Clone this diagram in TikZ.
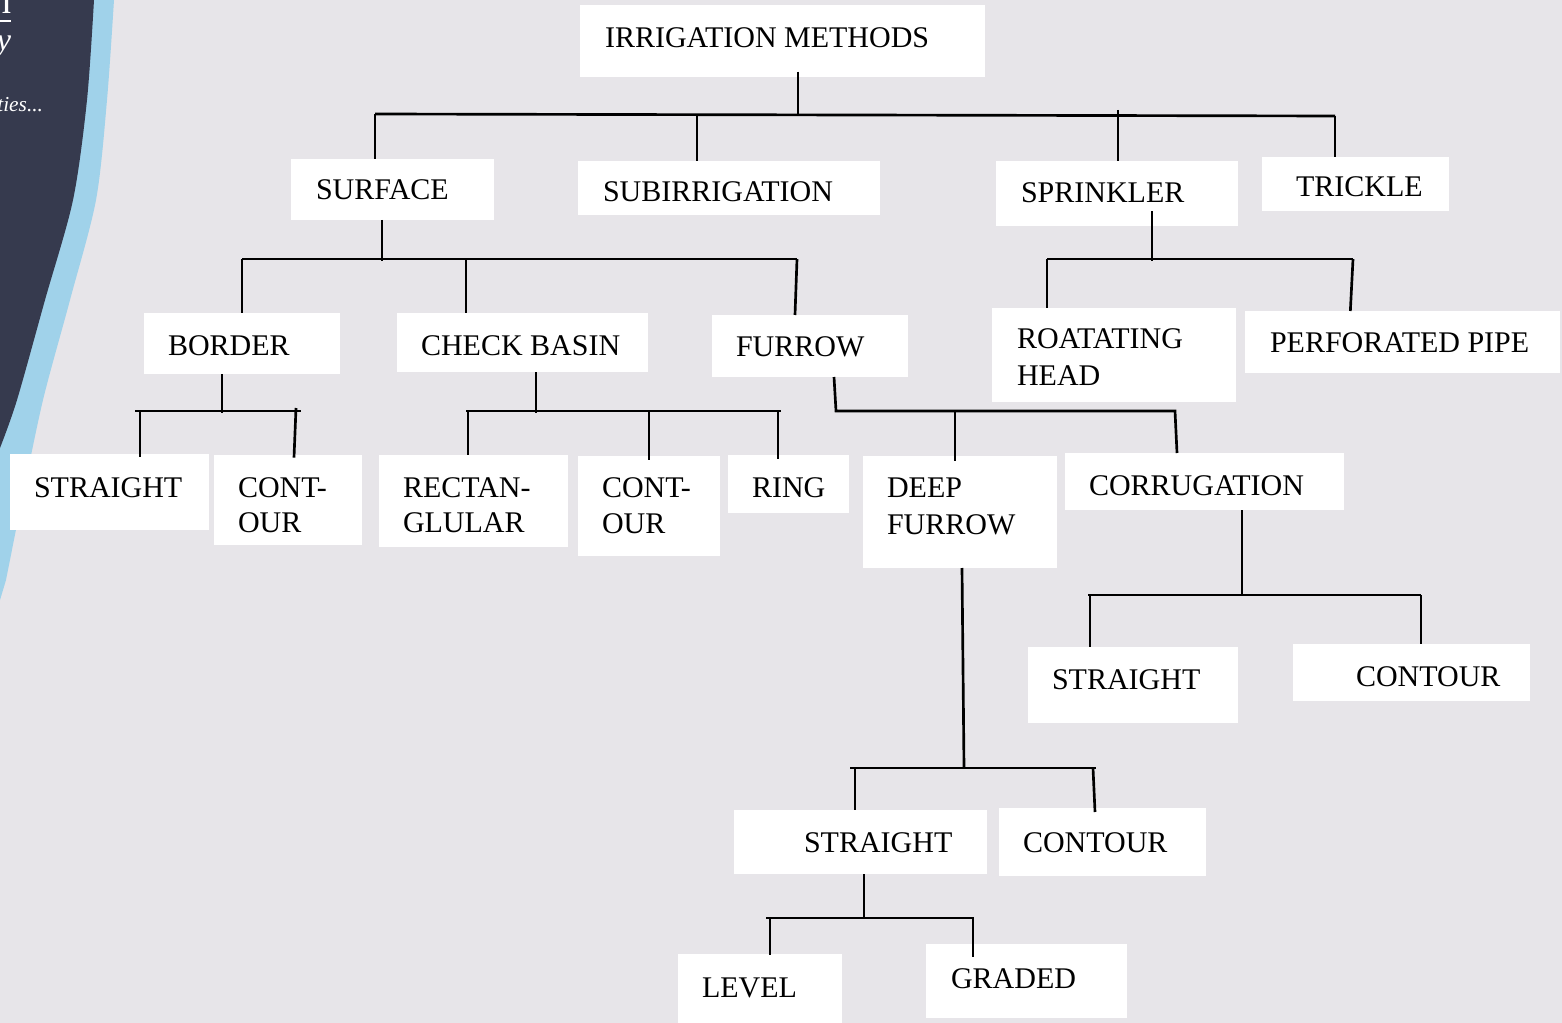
\documentclass[tikz,border=0pt]{standalone}
\usepackage{fontspec}
\setmainfont{Liberation Serif}
\definecolor{bg}{RGB}{231,229,233}
\definecolor{navy}{RGB}{54,58,78}
\definecolor{sky}{RGB}{160,210,234}
\tikzset{
  box/.style={fill=white, inner sep=0pt, outer sep=0pt, anchor=north west},
  lbl/.style={inner sep=0pt, outer sep=0pt, anchor=base west, text=black,
    font=\fontsize{22.5}{26.25}\selectfont},
  conn/.style={line width=2pt, black},
  frag/.style={inner sep=0pt, outer sep=0pt, text=white}
}
\newcommand\mybox[5]{\node[box, minimum width={(#4-#2)*0.75pt}, minimum height={(#5-#3)*0.75pt}] (#1) at (#2,#3) {};}
\newcommand\mylbl[4]{\node[lbl] (#1) at (#2,#3) {#4};}
\begin{document}
\begin{tikzpicture}[x=0.75pt, y=-0.75pt]
\useasboundingbox (0,0) rectangle (1562,1023);
\fill[bg] (0,0) rectangle (1562,1023);
\begin{scope}
  \clip (0,0) rectangle (1562,1023);
  \fill[sky] (0,-5) -- (114,-5) -- plot[smooth] coordinates {(114,0) (107,100) (96,200) (70,300) (43,400) (22,500) (6,580)} -- (0,600) -- cycle;
  \fill[navy] (0,-5) -- (94,-5) -- plot[smooth] coordinates {(94,0) (87,100) (73,200) (45,300) (17,400) (0,448)} -- cycle;
  \node[frag, anchor=base east, font=\fontsize{30}{30}\selectfont] (fragn) at (12,14) {n};
  \draw[white, line width=1.5pt] (0,21) -- (11,21);
  \node[frag, anchor=base east, font=\itshape\fontsize{24}{24}\selectfont] (fragy) at (11,51) {y};
  \node[frag, anchor=base east, font=\itshape\fontsize{16}{18}\selectfont] (fragt) at (43,112) {ties...};
\end{scope}

% boxes
\mybox{root}{580}{5}{985}{77}
\mybox{surface}{291}{159}{494}{220}
\mybox{subirr}{578}{161}{880}{215}
\mybox{sprinkler}{996}{161}{1238}{226}
\mybox{trickle}{1262}{157}{1449}{211}
\mybox{border}{144}{313}{340}{374}
\mybox{checkbasin}{397}{313}{648}{372}
\mybox{furrow}{712}{315}{908}{377}
\mybox{rotating}{992}{308}{1236}{402}
\mybox{perforated}{1245}{311}{1560}{373}
\mybox{bstraight}{10}{454}{209}{530}
\mybox{bcontour}{214}{455}{362}{545}
\mybox{rect}{379}{455}{568}{547}
\mybox{ccontour}{578}{456}{720}{556}
\mybox{ring}{728}{455}{849}{513}
\mybox{deep}{863}{456}{1057}{568}
\mybox{corr}{1065}{453}{1344}{510}
\mybox{cstraight}{1028}{647}{1238}{723}
\mybox{ccontourb}{1293}{644}{1530}{701}
\mybox{dstraight}{734}{810}{987}{874}
\mybox{dcontour}{999}{808}{1206}{876}
\mybox{level}{678}{954}{842}{1023}
\mybox{graded}{926}{944}{1127}{1018}

% labels
\mylbl{t-root}{605}{48}{IRRIGATION METHODS}
\mylbl{t-surface}{316}{200}{SURFACE}
\mylbl{t-subirr}{603}{202}{SUBIRRIGATION}
\mylbl{t-sprinkler}{1021}{203}{SPRINKLER}
\mylbl{t-trickle}{1296}{197}{TRICKLE}
\mylbl{t-border}{168}{355}{BORDER}
\mylbl{t-checkbasin}{421}{355}{CHECK BASIN}
\mylbl{t-furrow}{736}{356}{FURROW}
\mylbl{t-rotating1}{1017}{349}{ROATATING}
\mylbl{t-rotating2}{1017}{385}{HEAD}
\mylbl{t-perforated}{1270}{352}{PERFORATED PIPE}
\mylbl{t-bstraight}{34}{497}{STRAIGHT}
\mylbl{t-bcontour1}{238}{497}{CONT-}
\mylbl{t-bcontour2}{238}{532}{OUR}
\mylbl{t-rect1}{403}{497}{RECTAN-}
\mylbl{t-rect2}{403}{532}{GLULAR}
\mylbl{t-ccontour1}{602}{497}{CONT-}
\mylbl{t-ccontour2}{602}{533}{OUR}
\mylbl{t-ring}{752}{497}{RING}
\mylbl{t-deep1}{887}{497}{DEEP}
\mylbl{t-deep2}{887}{534}{FURROW}
\mylbl{t-corr}{1089}{495}{CORRUGATION}
\mylbl{t-cstraight}{1052}{689}{STRAIGHT}
\mylbl{t-ccontourb}{1356}{686}{CONTOUR}
\mylbl{t-dstraight}{804}{852}{STRAIGHT}
\mylbl{t-dcontour}{1023}{852}{CONTOUR}
\mylbl{t-level}{702}{997}{LEVEL}
\mylbl{t-graded}{951}{988}{GRADED}

% connectors: root
\coordinate (jroot) at (798,115);
\coordinate (r1) at (375,114);
\coordinate (r4) at (1335,116);
\coordinate (s1) at (697,115);
\coordinate (s2) at (1118,110);
\draw[conn] ([yshift=4pt]jroot |- root.south) -- (jroot);
\draw[conn] (r1) -- (r4);
\draw[conn] (r1) -- (r1 |- surface.north);
\draw[conn] (s1) -- (s1 |- subirr.north);
\draw[conn] (s2) -- (s2 |- sprinkler.north);
\draw[conn] (r4) -- (r4 |- trickle.north);

% surface
\coordinate (sa) at (242,259);
\coordinate (sb) at (797,259);
\coordinate (sj) at (382,261);
\coordinate (sc) at (466,259);
\draw[conn] (sj |- surface.south) -- (sj);
\draw[conn] (sa) -- (sb);
\draw[conn] (sa) -- (sa |- border.north);
\draw[conn] (sc) -- (sc |- checkbasin.north);
\draw[conn] (sb) -- ([xshift=-1.5pt]sb |- furrow.north);

% sprinkler
\coordinate (pa) at (1047,259);
\coordinate (pb) at (1353,259);
\coordinate (pj) at (1152,261);
\draw[conn] ([yshift=11pt]pj |- sprinkler.south) -- (pj);
\draw[conn] (pa) -- (pb);
\draw[conn] (pa) -- (pa |- rotating.north);
\draw[conn] (pb) -- ([xshift=-2pt]pb |- perforated.north);

% border
\coordinate (ba) at (135,411);
\coordinate (bb) at (301,411);
\coordinate (bj) at (222,413);
\coordinate (b1) at (140,411);
\coordinate (b2) at (296,408);
\draw[conn] (bj |- border.south) -- (bj);
\draw[conn] (ba) -- (bb);
\draw[conn] (b1) -- ([yshift=-2pt]b1 |- bstraight.north);
\draw[conn] (b2) -- ([xshift=-1.5pt,yshift=-2pt]b2 |- bcontour.north);

% check basin
\coordinate (ca) at (466,411);
\coordinate (cb) at (781,411);
\coordinate (cj) at (536,413);
\coordinate (c1) at (468,411);
\coordinate (c2) at (649,411);
\coordinate (c3) at (778,411);
\draw[conn] (cj |- checkbasin.south) -- (cj);
\draw[conn] (ca) -- (cb);
\draw[conn] (c1) -- (c1 |- rect.north);
\draw[conn] (c2) -- ([yshift=-3pt]c2 |- ccontour.north);
\draw[conn] (c3) -- ([yshift=-3pt]c3 |- ring.north);

% furrow
\coordinate (ft) at (834,377);
\coordinate (fa) at (836,411);
\coordinate (fb) at (1175,411);
\coordinate (f1) at (955,411);
\draw[conn] (ft |- furrow.south) -- (fa) -- (fb) -- ([xshift=1.5pt]fb |- corr.north);
\draw[conn] (f1) -- ([yshift=-4pt]f1 |- deep.north);

% corrugation
\coordinate (ga) at (1088,595);
\coordinate (gb) at (1421,595);
\coordinate (gj) at (1242,595);
\coordinate (g1) at (1090,595);
\draw[conn] (gj |- corr.south) -- (gj);
\draw[conn] (ga) -- (gb);
\draw[conn] (g1) -- (g1 |- cstraight.north);
\draw[conn] (gb) -- (gb |- ccontourb.north);

% deep furrow
\coordinate (da) at (850,768);
\coordinate (db) at (1096,768);
\coordinate (dj) at (964,768);
\coordinate (d1) at (855,768);
\coordinate (d2) at (1093,768);
\draw[conn] ([xshift=-1.5pt]dj |- deep.south) -- (dj);
\draw[conn] (da) -- (db);
\draw[conn] (d1) -- (d1 |- dstraight.north);
\draw[conn] (d2) -- ([xshift=1.5pt,yshift=-3pt]d2 |- dcontour.north);

% straight (deep furrow)
\coordinate (ea) at (766,918);
\coordinate (eb) at (974,918);
\coordinate (ej) at (864,918);
\coordinate (e1) at (770,918);
\coordinate (e2) at (973,918);
\draw[conn] (ej |- dstraight.south) -- (ej);
\draw[conn] (ea) -- (eb);
\draw[conn] (e1) -- ([yshift=-1pt]e1 |- level.north);
\draw[conn] (e2) -- ([yshift=-10pt]e2 |- graded.north);
\end{tikzpicture}
\end{document}
